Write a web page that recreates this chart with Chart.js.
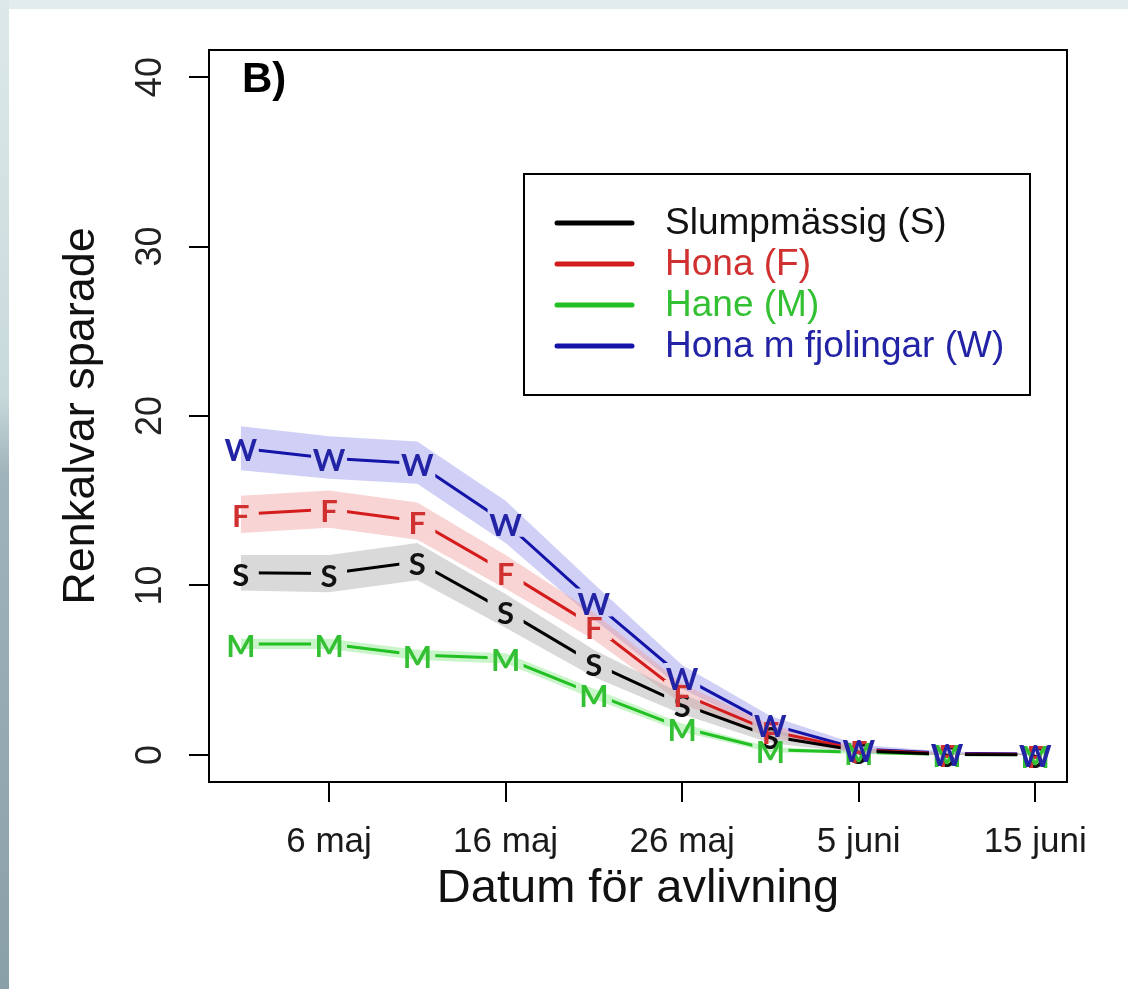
<!DOCTYPE html>
<html>
<head>
<meta charset="utf-8">
<script src="https://cdn.jsdelivr.net/npm/chart.js"></script>
<style>
  html, body { margin: 0; padding: 0; width: 1128px; height: 989px; overflow: hidden; background: #e2ecec; }
  #strip { position: absolute; left: 0; top: 0; width: 9px; height: 989px;
    background: linear-gradient(to bottom, #dde9e9 0%, #c8d9db 40%, #9fb3ba 48%, #8aa0a8 100%); }
  #paper { position: absolute; left: 9px; top: 9px; right: 0; bottom: 0; background: #fff; }
  #wrap { position: absolute; left: 0; top: 0; width: 1128px; height: 989px; }
</style>
</head>
<body>
<div id="strip"></div>
<div id="paper"></div>
<div id="wrap"><canvas id="chart" width="1128" height="989"></canvas></div>
<script>
// days counted from 1 May
const days = [1, 6, 11, 16, 21, 26, 31, 36, 41, 46];
const tickDays = [6, 16, 26, 36, 46];
const tickLabels = ['6 maj', '16 maj', '26 maj', '5 juni', '15 juni'];
const yTicks = [0, 10, 20, 30, 40];

const slump   = [10.75, 10.7, 11.4, 8.5, 5.4, 3.0, 1.1, 0.25, 0.03, 0.01];
const slumpLo = [9.7, 9.6, 10.3, 7.5, 4.6, 2.4, 0.7, 0.1, 0, 0];
const slumpHi = [11.8, 11.8, 12.5, 9.5, 6.2, 3.6, 1.5, 0.4, 0.08, 0.03];

const hona   = [14.2, 14.5, 13.8, 10.8, 7.6, 3.6, 1.4, 0.3, 0.05, 0.02];
const honaLo = [13.1, 13.4, 12.7, 9.8, 6.8, 3.0, 1.0, 0.15, 0, 0];
const honaHi = [15.3, 15.6, 14.9, 11.8, 8.4, 4.2, 1.8, 0.45, 0.1, 0.05];

const hane   = [6.55, 6.55, 5.9, 5.7, 3.6, 1.6, 0.3, 0.15, 0.03, 0.01];
const haneLo = [6.25, 6.25, 5.6, 5.4, 3.3, 1.35, 0.15, 0.05, 0, 0];
const haneHi = [6.85, 6.85, 6.2, 6.0, 3.9, 1.85, 0.45, 0.25, 0.06, 0.03];

const fjol   = [18.1, 17.5, 17.2, 13.7, 9.0, 4.6, 1.8, 0.35, 0.1, 0.05];
const fjolLo = [16.8, 16.3, 16.0, 12.5, 8.0, 3.9, 1.3, 0.1, 0, 0];
const fjolHi = [19.4, 18.8, 18.5, 15.0, 10.1, 5.3, 2.3, 0.6, 0.2, 0.1];

const series = [
  { name: 'Slumpmässig (S)', letter: 'S', mean: slump, lo: slumpLo, hi: slumpHi,
    line: '#000000', text: '#111111', band: 'rgba(170,170,170,0.45)' },
  { name: 'Hona (F)', letter: 'F', mean: hona, lo: honaLo, hi: honaHi,
    line: '#d41c1c', text: '#d03030', band: 'rgba(240,160,160,0.45)' },
  { name: 'Hane (M)', letter: 'M', mean: hane, lo: haneLo, hi: haneHi,
    line: '#22c022', text: '#33c033', band: 'rgba(150,235,150,0.5)' },
  { name: 'Hona m fjolingar (W)', letter: 'W', mean: fjol, lo: fjolLo, hi: fjolHi,
    line: '#1414a8', text: '#2323a6', band: 'rgba(150,150,235,0.45)' }
];

const pts = arr => days.map((d, i) => ({ x: d, y: arr[i] }));

const datasets = [];
series.forEach(s => {
  datasets.push({ data: pts(s.lo), borderWidth: 0, pointRadius: 0, fill: false, order: 10 });
  datasets.push({ data: pts(s.hi), borderWidth: 0, pointRadius: 0, fill: '-1',
    backgroundColor: s.band, order: 10 });
});
series.forEach(s => {
  datasets.push({ label: s.name, letter: s.letter, textColor: s.text, data: pts(s.mean),
    borderColor: s.line, borderWidth: 3, pointRadius: 0, fill: false, order: 0 });
});

const rPlot = {
  id: 'rPlot',
  beforeDatasetDraw(chart, args) {
    const ds = chart.data.datasets[args.index];
    if (!ds.letter) return;
    const ctx = chart.ctx;
    ctx.save();
    ctx.beginPath();
    ctx.rect(0, 0, chart.width, chart.height);
    args.meta.data.forEach(p => ctx.rect(p.x - 18, p.y - 14, 36, 28));
    ctx.clip('evenodd');
  },
  afterDatasetDraw(chart, args) {
    if (chart.data.datasets[args.index].letter) chart.ctx.restore();
  },
  afterDatasetsDraw(chart) {
    const ctx = chart.ctx;
    const area = chart.chartArea;
    // letters on points
    ctx.save();
    ctx.font = 'bold 31px Lato';
    ctx.textAlign = 'center';
    ctx.textBaseline = 'middle';
    chart.data.datasets.forEach((ds, i) => {
      if (!ds.letter) return;
      ctx.fillStyle = ds.textColor;
      chart.getDatasetMeta(i).data.forEach(p => ctx.fillText(ds.letter, p.x, p.y + 3));
    });
    ctx.restore();

    // box
    ctx.save();
    ctx.strokeStyle = '#000';
    ctx.lineWidth = 2;
    ctx.strokeRect(area.left, area.top, area.right - area.left, area.bottom - area.top);

    // y tick labels (rotated, R style)
    const ys = chart.scales.y;
    ctx.fillStyle = '#222';
    ctx.font = '36px "Liberation Sans"';
    ctx.textAlign = 'center';
    ctx.textBaseline = 'middle';
    yTicks.forEach(v => {
      ctx.save();
      ctx.translate(151, ys.getPixelForValue(v));
      ctx.rotate(-Math.PI / 2);
      ctx.fillText(String(v), 0, 0);
      ctx.restore();
    });

    // panel letter
    ctx.fillStyle = '#000';
    ctx.font = 'bold 42px "Liberation Sans"';
    ctx.textAlign = 'left';
    ctx.fillText('B)', 242, 80);

    // legend
    const lx = 524, ly = 174, lw = 506, lh = 221;
    ctx.fillStyle = '#fff';
    ctx.fillRect(lx, ly, lw, lh);
    ctx.strokeRect(lx, ly, lw, lh);
    ctx.font = '37px "Liberation Sans"';
    ctx.lineCap = 'round';
    series.forEach((s, i) => {
      const y = 223 + i * 41;
      ctx.strokeStyle = s.line;
      ctx.lineWidth = 5;
      ctx.beginPath();
      ctx.moveTo(557, y);
      ctx.lineTo(632, y);
      ctx.stroke();
      ctx.fillStyle = s.text;
      ctx.fillText(s.name, 665, y + 1);
    });
    ctx.restore();
  }
};

new Chart(document.getElementById('chart'), {
  type: 'line',
  data: { datasets: datasets },
  options: {
    responsive: false,
    animation: false,
    events: [],
    layout: { padding: { left: 0, top: 50, right: 61, bottom: 0 } },
    plugins: { legend: { display: false }, tooltip: { enabled: false } },
    elements: { line: { tension: 0 } },
    scales: {
      x: {
        type: 'linear',
        min: -0.8,
        max: 47.8,
        afterBuildTicks: axis => { axis.ticks = tickDays.map(v => ({ value: v })); },
        afterFit: axis => { axis.height = 207; },
        ticks: {
          callback: v => tickLabels[tickDays.indexOf(v)],
          font: { family: 'Liberation Sans', size: 35 },
          color: '#1a1a1a',
          maxRotation: 0,
          autoSkip: false,
          padding: 19
        },
        grid: { drawOnChartArea: false, drawTicks: true, tickLength: 20, color: '#000', lineWidth: 2 },
        border: { display: false },
        title: {
          display: true,
          text: 'Datum för avlivning',
          font: { family: 'Liberation Sans', size: 47 },
          color: '#111',
          padding: { top: 0, bottom: 72 }
        }
      },
      y: {
        type: 'linear',
        min: -1.6,
        max: 41.6,
        afterBuildTicks: axis => { axis.ticks = yTicks.map(v => ({ value: v })); },
        afterFit: axis => { axis.width = 209; },
        ticks: { display: false },
        grid: { drawOnChartArea: false, drawTicks: true, tickLength: 20, color: '#000', lineWidth: 2 },
        border: { display: false },
        title: {
          display: true,
          text: 'Renkalvar sparade',
          font: { family: 'Liberation Sans', size: 45 },
          color: '#111',
          padding: { top: 55, bottom: 0 }
        }
      }
    }
  },
  plugins: [rPlot]
});
</script>
</body>
</html>
